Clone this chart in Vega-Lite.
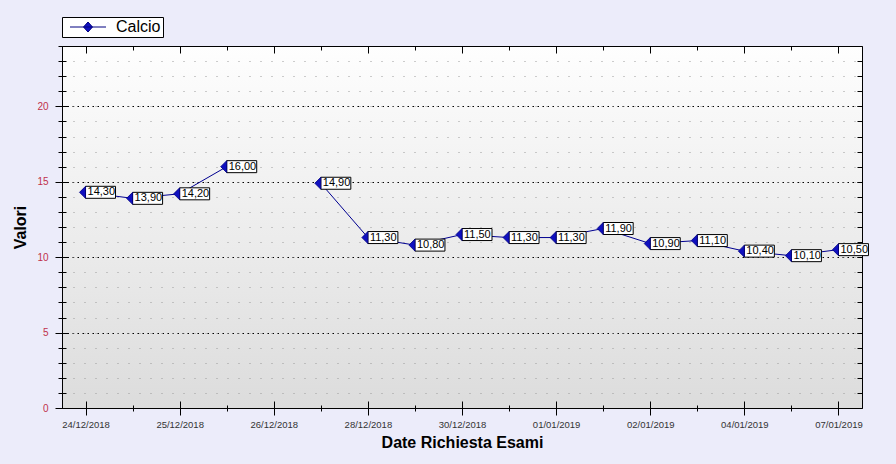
{
  "$schema": "https://vega.github.io/schema/vega-lite/v6.json",
  "width": 800,
  "height": 362,
  "autosize": {"type": "none"},
  "padding": {"left": 62, "top": 46, "right": 34, "bottom": 56},
  "background": "#ececfa",
  "view": {
    "stroke": null,
    "fill": {"gradient": "linear", "x1": 0, "y1": 0, "x2": 0, "y2": 1,
      "stops": [{"offset": 0, "color": "#fefefe"}, {"offset": 1, "color": "#dcdcdc"}]}
  },
  "config": {
    "locale": {"number": {"decimal": ",", "thousands": ".", "grouping": [3], "currency": ["€", ""]}},
    "axis": {"labelFont": "Liberation Sans", "titleFont": "Liberation Sans", "domainColor": "#000", "tickColor": "#000", "labelFlush": false, "labelOverlap": false}
  },
  "data": {
    "values": [
      {"n": 0, "v": 14.3, "serie": "Calcio"},
      {"n": 1, "v": 13.9, "serie": "Calcio"},
      {"n": 2, "v": 14.2, "serie": "Calcio"},
      {"n": 3, "v": 16.0, "serie": "Calcio"},
      {"n": 4, "v": null, "serie": "Calcio"},
      {"n": 5, "v": 14.9, "serie": "Calcio"},
      {"n": 6, "v": 11.3, "serie": "Calcio"},
      {"n": 7, "v": 10.8, "serie": "Calcio"},
      {"n": 8, "v": 11.5, "serie": "Calcio"},
      {"n": 9, "v": 11.3, "serie": "Calcio"},
      {"n": 10, "v": 11.3, "serie": "Calcio"},
      {"n": 11, "v": 11.9, "serie": "Calcio"},
      {"n": 12, "v": 10.9, "serie": "Calcio"},
      {"n": 13, "v": 11.1, "serie": "Calcio"},
      {"n": 14, "v": 10.4, "serie": "Calcio"},
      {"n": 15, "v": 10.1, "serie": "Calcio"},
      {"n": 16, "v": 10.5, "serie": "Calcio"}
    ]
  },
  "resolve": {"axis": {"x": "independent", "y": "independent"}},
  "layer": [
    {
      "mark": {"type": "line", "color": "#000090", "strokeWidth": 1, "invalid": "break-paths-show-domains"},
      "encoding": {
        "x": {"field": "n", "type": "quantitative",
          "scale": {"domain": [-0.5, 16.5], "nice": false, "zero": false},
          "axis": {"orient": "bottom", "values": [0, 2, 4, 6, 8, 10, 12, 14, 16],
            "labelExpr": "['24/12/2018','25/12/2018','26/12/2018','28/12/2018','30/12/2018','01/01/2019','02/01/2019','04/01/2019','07/01/2019'][datum.value / 2]",
            "tickSize": 7, "labelPadding": 4, "labelFontSize": 9.5, "labelColor": "#333",
            "title": "Date Richiesta Esami", "titleFontSize": 16, "titleFontWeight": "bold", "titleColor": "#000", "titlePadding": 6,
            "domain": true, "grid": false}},
        "y": {"field": "v", "type": "quantitative",
          "scale": {"domain": [0, 24], "nice": false, "zero": true},
          "axis": {"orient": "left", "values": [0, 5, 10, 15, 20], "tickSize": 7, "labelPadding": 7,
            "labelColor": "#c0304a", "labelFontSize": 10,
            "title": "Valori", "titleFontSize": 16, "titleFontWeight": "bold", "titleColor": "#000", "titlePadding": 8,
            "domain": true, "grid": true, "gridColor": "#000", "gridDash": [1.5, 3.5], "gridWidth": 1.2}}
      }
    },
    {
      "mark": {"type": "point", "shape": "M0,-0.5H2.5V0.5H0Z", "size": 576, "filled": true, "fill": "#ffffff", "fillOpacity": 1, "stroke": "#000", "strokeWidth": 1, "opacity": 1},
      "encoding": {
        "x": {"field": "n", "type": "quantitative",
          "axis": {"orient": "top", "values": [0, 1, 2, 3, 4, 5, 6, 7, 8, 9, 10, 11, 12, 13, 14, 15, 16],
            "tickSize": {"condition": {"test": "datum.value % 2 == 0", "value": -7}, "value": -4},
            "labels": false, "domain": true, "title": null, "grid": false}},
        "y": {"field": "v", "type": "quantitative",
          "axis": {"orient": "right", "values": [0, 1, 2, 3, 4, 5, 6, 7, 8, 9, 10, 11, 12, 13, 14, 15, 16, 17, 18, 19, 20, 21, 22, 23, 24],
            "tickSize": -5, "labels": false, "domain": true, "title": null, "grid": false}}
      }
    },
    {
      "mark": {"type": "text", "align": "left", "baseline": "middle", "dx": 2, "fontSize": 11, "font": "Liberation Sans", "color": "#000"},
      "encoding": {
        "x": {"field": "n", "type": "quantitative",
          "axis": {"orient": "bottom", "values": [0, 1, 2, 3, 4, 5, 6, 7, 8, 9, 10, 11, 12, 13, 14, 15, 16],
            "tickSize": {"condition": {"test": "datum.value % 2 == 0", "value": -7}, "value": -3},
            "labels": false, "domain": false, "title": null, "grid": false}},
        "y": {"field": "v", "type": "quantitative",
          "axis": {"orient": "left", "values": [0, 1, 2, 3, 4, 5, 6, 7, 8, 9, 10, 11, 12, 13, 14, 15, 16, 17, 18, 19, 20, 21, 22, 23, 24],
            "tickSize": {"condition": {"test": "datum.value % 5 == 0", "value": -6}, "value": -4},
            "labels": false, "domain": false, "title": null, "grid": false}},
        "text": {"field": "v", "type": "quantitative", "format": ".2f"}
      }
    },
    {
      "mark": {"type": "point", "shape": "M0,-1L-1,0L0,1Z", "size": 144, "filled": true, "stroke": "#000080", "strokeWidth": 0.8, "opacity": 1},
      "encoding": {
        "x": {"field": "n", "type": "quantitative",
          "axis": {"orient": "bottom", "values": [1, 3, 5, 7, 9, 11, 13, 15],
            "tickSize": 3, "labels": false, "domain": false, "title": null, "grid": false}},
        "y": {"field": "v", "type": "quantitative",
          "axis": {"orient": "left", "values": [0, 1, 2, 3, 4, 5, 6, 7, 8, 9, 10, 11, 12, 13, 14, 15, 16, 17, 18, 19, 20, 21, 22, 23, 24],
            "tickSize": 4, "labels": false, "domain": false, "title": null,
            "grid": true, "gridColor": "#9a9a9a", "gridDash": [1, 10], "gridWidth": 1}},
        "color": {"field": "serie", "type": "nominal", "scale": {"range": ["#1010c0"]},
          "legend": {"orient": "none", "legendX": 0, "legendY": -29, "title": null,
            "symbolType": "M-3.6,0H3.6M0,-1L0.9,0L0,1L-0.9,0Z", "symbolSize": 100,
            "symbolFillColor": "#1010c0", "symbolStrokeColor": "#000080", "symbolStrokeWidth": 1,
            "labelFontSize": 16, "labelFont": "Liberation Sans", "labelColor": "#000",
            "labelOffset": 20, "symbolOffset": 16, "padding": 2,
            "strokeColor": "#000", "fillColor": "#fff", "cornerRadius": 0}}
      }
    }
  ]
}
